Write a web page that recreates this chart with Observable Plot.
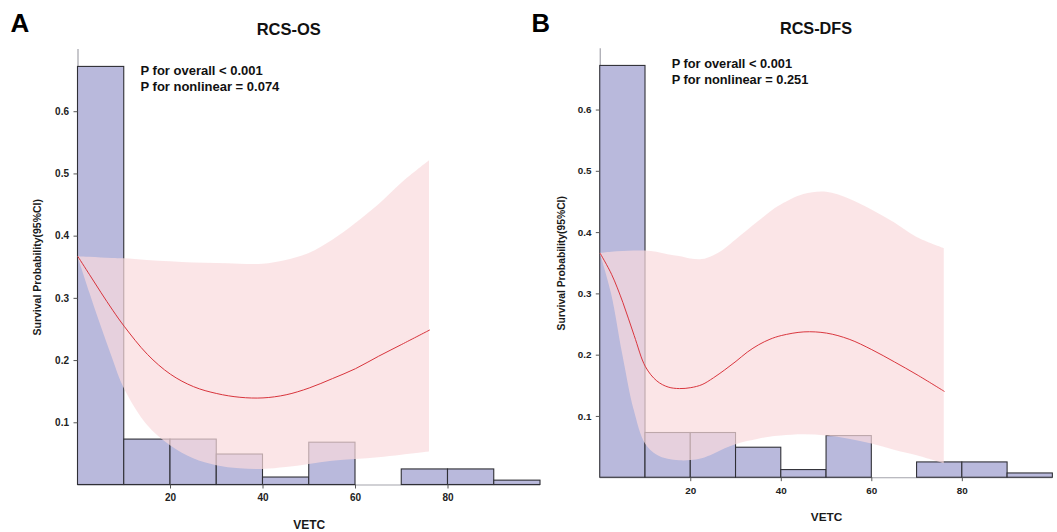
<!DOCTYPE html>
<html><head><meta charset="utf-8">
<script src="https://cdn.jsdelivr.net/npm/d3@7"></script>
<script src="https://cdn.jsdelivr.net/npm/@observablehq/plot@0.6"></script>
<style>
html,body{margin:0;padding:0;background:#fff;overflow:hidden;width:1057px;height:532px;}
#a,#b{position:absolute;top:0;}
#a{left:0;} #b{left:530px;}
</style></head><body><div id="a"></div><div id="b"></div>
<script>
// ---- data ----
const binLeft = [0, 10, 20, 30, 40, 50, 60, 70, 80, 90];
const binWidth = 10;
const histOS  = [0.672, 0.073, 0.073, 0.049, 0.012, 0.068, 0, 0.025, 0.025, 0.007];
const histDFS = [0.672, 0.073, 0.073, 0.049, 0.0125, 0.068, 0, 0.025, 0.025, 0.007];

const vetcOS  = [0, 2.5, 5, 7.5, 10, 15, 20, 25, 30, 35, 40, 45, 50, 55, 60, 65, 70, 76];
const osFit   = [0.367, 0.338, 0.309, 0.281, 0.255, 0.210, 0.178, 0.158, 0.147, 0.141, 0.140, 0.145, 0.156, 0.171, 0.187, 0.207, 0.226, 0.249];
const osUpper = [0.367, 0.366, 0.365, 0.364, 0.3635, 0.361, 0.359, 0.357, 0.356, 0.355, 0.355, 0.361, 0.372, 0.393, 0.420, 0.450, 0.485, 0.521];
const osLower = [0.367, 0.31, 0.255, 0.203, 0.155, 0.096, 0.063, 0.042, 0.031, 0.026, 0.025, 0.028, 0.033, 0.038, 0.041, 0.044, 0.048, 0.053];

const vetcDFS  = [0, 2.5, 5, 7.5, 10, 12.5, 15, 17.5, 20, 22.5, 25, 27.5, 30, 32.5, 35, 37.5, 40, 45, 50, 55, 60, 65, 70, 76];
const dfsFit   = [0.366, 0.332, 0.286, 0.232, 0.181, 0.158, 0.148, 0.1455, 0.147, 0.152, 0.163, 0.176, 0.190, 0.205, 0.217, 0.226, 0.232, 0.238, 0.236, 0.226, 0.209, 0.189, 0.168, 0.141];
const dfsUpper = [0.366, 0.368, 0.369, 0.370, 0.370, 0.368, 0.364, 0.361, 0.357, 0.356, 0.362, 0.373, 0.388, 0.403, 0.418, 0.433, 0.445, 0.462, 0.466, 0.455, 0.437, 0.416, 0.392, 0.374];
const dfsLower = [0.366, 0.30, 0.20, 0.11, 0.055, 0.037, 0.030, 0.0277, 0.028, 0.031, 0.038, 0.047, 0.054, 0.059, 0.063, 0.066, 0.068, 0.070, 0.068, 0.063, 0.055, 0.045, 0.036, 0.023];

const xTicks = [20, 40, 60, 80];
const yTicks = [0.1, 0.2, 0.3, 0.4, 0.5, 0.6];
const xLabel = "VETC";
const yLabel = "Survival Probability(95%CI)";
const panelLetters = ["A", "B"];
const panelTitles = ["RCS-OS", "RCS-DFS"];
const pTexts = ["P for overall < 0.001\nP for nonlinear = 0.074", "P for overall < 0.001\nP for nonlinear = 0.251"];

const FONT = "'Liberation Sans', Arial, Helvetica, sans-serif";

function panel(cfg) {
  const hist = binLeft.map((b, i) => ({x1: b, x2: b + binWidth, p: cfg.hist[i]})).filter(d => d.p > 0);
  const curve = cfg.u.map((u, i) => ({u, fit: cfg.fit[i], lo: cfg.lo[i], hi: cfg.hi[i]}));
  return Plot.plot({
    width: cfg.width, height: 532,
    marginLeft: cfg.ml, marginRight: cfg.mr, marginTop: 49, marginBottom: 47.5,
    style: {background: "transparent", overflow: "visible", fontFamily: FONT, color: "#222"},
    x: {domain: [0, 100]},
    y: {domain: [0, 0.7]},
    marks: [
      Plot.ruleY([0], {stroke: "#a3a3ab", strokeWidth: 1.2}),
      Plot.ruleX([0], {stroke: "#a3a3ab", strokeWidth: 1.2}),
      Plot.rect(hist, {x1: "x1", x2: "x2", y1: 0, y2: "p", fill: "#b9b9dc", stroke: "#2f2f35", strokeWidth: 1.1}),
      Plot.areaY(curve, {x: "u", y1: "lo", y2: "hi", fill: "#fadadd", fillOpacity: 0.7, curve: "catmull-rom"}),
      Plot.lineY(curve, {x: "u", y: "fit", stroke: "#d8343c", strokeWidth: 1, curve: "catmull-rom"}),
      Plot.axisX({ticks: xTicks, tickSize: 4, tickPadding: 5, fontSize: 10, fontWeight: "bold", label: null, stroke: "#555"}),
      Plot.axisY({ticks: yTicks, tickSize: 4, tickPadding: 5, tickFormat: ".1f", fontSize: 10, fontWeight: "bold", label: null, stroke: "#555"}),
      Plot.text([xLabel], {frameAnchor: "bottom", dy: 40.2, lineAnchor: "middle", fontSize: 12, fontWeight: "bold", fill: "#1a1a1a"}),
      Plot.text([yLabel], {frameAnchor: "left", dx: cfg.ylabDx, rotate: -90, textAnchor: "middle", lineAnchor: "middle", fontSize: 10.5, fontWeight: "bold", fill: "#1a1a1a"}),
      Plot.text([cfg.title], {frameAnchor: "top", dx: cfg.titleDx, dy: -15, lineAnchor: "bottom", fontSize: 16.5, fontWeight: "bold", fill: "#111"}),
      Plot.text([cfg.letter], {frameAnchor: "top-left", dx: cfg.letterDx, dy: -17.3, textAnchor: "start", lineAnchor: "bottom", fontSize: 26, fontWeight: "bold", fill: "#000"}),
      Plot.text([cfg.ptext], {frameAnchor: "top-left", dx: cfg.pDx, dy: cfg.pDy, textAnchor: "start", lineAnchor: "top", lineHeight: 1.25, fontSize: 13, fontWeight: "bold", fill: "#111"})
    ]
  });
}

document.getElementById("a").append(panel({
  width: 545, ml: 77.5, mr: 5,
  hist: histOS, u: vetcOS, fit: osFit, lo: osLower, hi: osUpper,
  title: panelTitles[0], letter: panelLetters[0], ptext: pTexts[0],
  ylabDx: -40.5, titleDx: -20.5, letterDx: -67.5, pDx: 62.5, pDy: 13.7
}));
document.getElementById("b").append(panel({
  width: 535, ml: 70.8, mr: 4.7,
  hist: histDFS, u: vetcDFS, fit: dfsFit, lo: dfsLower, hi: dfsUpper,
  title: panelTitles[1], letter: panelLetters[1], ptext: pTexts[1],
  ylabDx: -38.8, titleDx: -10.7, letterDx: -69.8, pDx: 72.5, pDy: 7.7
}));
</script>
</body></html>
